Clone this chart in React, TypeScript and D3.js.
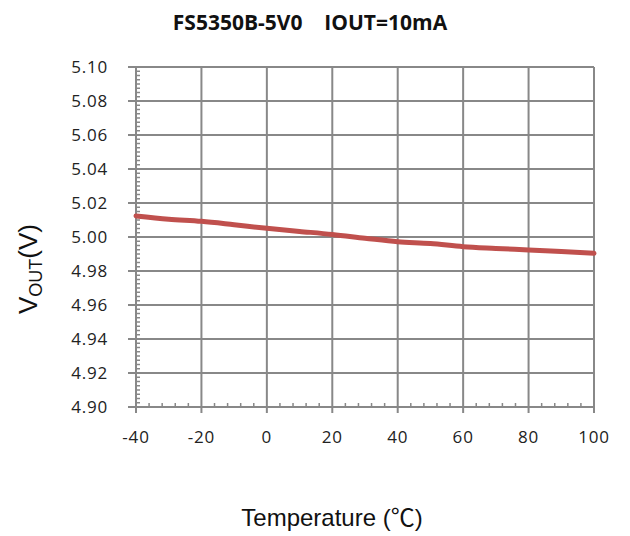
import React from "react";
import * as d3 from "d3";

const temps = [-40, -30, -20, -10, 0, 10, 20, 30, 40, 50, 60, 70, 80, 90, 100];
const vout = [5.0124, 5.0105, 5.0092, 5.0072, 5.0051, 5.0033, 5.0015, 4.9993, 4.9972, 4.9962, 4.9943, 4.9933, 4.9924, 4.9914, 4.9904];
const xTicks = [-40, -20, 0, 20, 40, 60, 80, 100];
const yTicks = [4.9, 4.92, 4.94, 4.96, 4.98, 5.0, 5.02, 5.04, 5.06, 5.08, 5.1];
const title = "FS5350B-5V0\u00a0\u00a0\u00a0\u00a0IOUT=10mA";

export default function App() {
  const W = 630, H = 536;
  const left = 136, right = 594, top = 67, bottom = 407;
  const x = d3.scaleLinear().domain([-40, 100]).range([left, right]);
  const y = d3.scaleLinear().domain([4.9, 5.1]).range([bottom, top]);
  const line = d3.line<number>().x((_, i) => x(temps[i])).y((d) => y(d)).curve(d3.curveMonotoneX);
  const grid = "#888888";
  const xMinor = d3.range(-40, 100.001, 4).filter((v) => !xTicks.includes(v));
  const yMinor = d3.range(0, 81).map((i) => 4.9 + i * 0.0025).filter((v) => !yTicks.some((t) => Math.abs(t - v) < 1e-6));
  const tickFont = { fontFamily: "'Open Sans', sans-serif", fontSize: 17, letterSpacing: 0.8, fill: "#222" };
  const arial = "'Liberation Sans', Arial, sans-serif";
  return (
    <svg width={W} height={H} style={{ position: "absolute", left: 0, top: 0, background: "#fff" }}>
      <text x={310} y={30} textAnchor="middle" style={{ fontFamily: "'Open Sans', sans-serif", fontWeight: 700, fontSize: 21, fill: "#111" }}>{title}</text>
      {yTicks.map((t) => (
        <line key={"gy" + t} x1={left - 8} x2={right} y1={y(t)} y2={y(t)} stroke={grid} strokeWidth={2} />
      ))}
      {xTicks.map((t) => (
        <line key={"gx" + t} x1={x(t)} x2={x(t)} y1={top} y2={bottom + 6} stroke={grid} strokeWidth={2} />
      ))}
      {yMinor.map((t, i) => (
        <line key={"my" + i} x1={left} x2={left + 4} y1={y(t)} y2={y(t)} stroke={grid} strokeWidth={1.5} />
      ))}
      {xMinor.map((t, i) => (
        <line key={"mx" + i} x1={x(t)} x2={x(t)} y1={bottom} y2={bottom - 4} stroke={grid} strokeWidth={1.5} />
      ))}
      <path d={line(vout) || ""} fill="none" stroke="#C0504D" strokeWidth={5} strokeLinecap="round" />
      {yTicks.map((t) => (
        <text key={"ly" + t} x={108} y={y(t) + 6} textAnchor="end" style={tickFont}>{t.toFixed(2)}</text>
      ))}
      {xTicks.map((t) => (
        <text key={"lx" + t} x={x(t)} y={bottom + 36} textAnchor="middle" style={tickFont}>{t}</text>
      ))}
      <text transform="translate(37,269) rotate(-90)" textAnchor="middle" style={{ fontFamily: arial, fontSize: 26, fill: "#111" }}>
        V<tspan fontSize={18} dy={5}>OUT</tspan><tspan dy={-5}>(V)</tspan>
      </text>
      <text x={332} y={526} textAnchor="middle" style={{ fontFamily: arial, fontSize: 24, fill: "#111" }}>
        Temperature (<tspan style={{ fontFamily: "'Noto Sans CJK SC', sans-serif" }}>℃</tspan>)
      </text>
    </svg>
  );
}
